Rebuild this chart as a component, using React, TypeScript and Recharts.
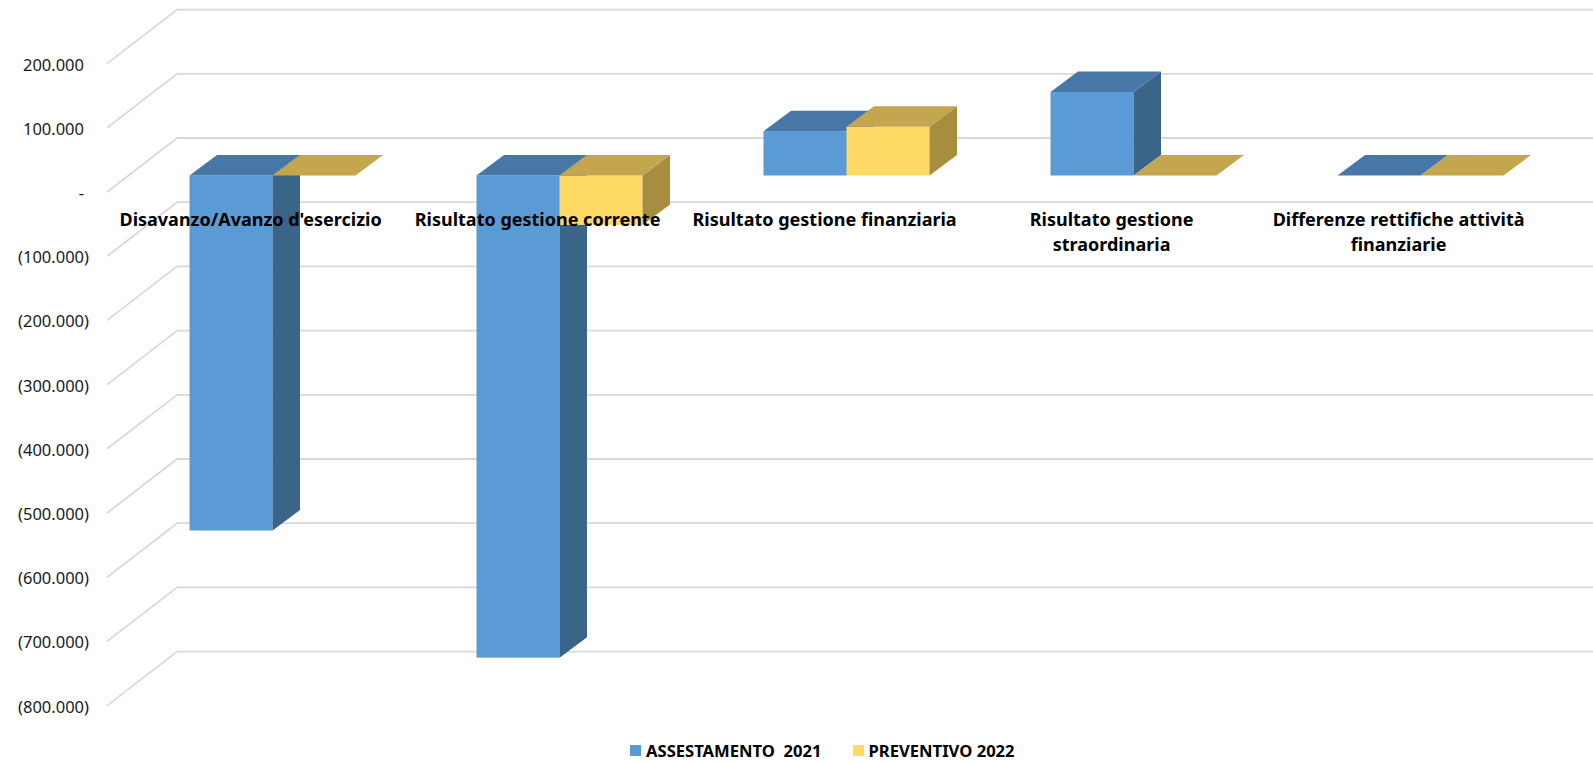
import { BarChart, Bar, XAxis, YAxis, CartesianGrid, Legend } from 'recharts';

const categories = [
  "Disavanzo/Avanzo d'esercizio",
  'Risultato gestione corrente',
  'Risultato gestione finanziaria',
  'Risultato gestione straordinaria',
  'Differenze rettifiche attività finanziarie',
];
const assestamento2021 = [-553000, -751000, 69000, 130000, 0];
const preventivo2022 = [0, -77000, 76000, 0, 0];
const yTicks = [200000, 100000, 0, -100000, -200000, -300000, -400000, -500000, -600000, -700000, -800000];

const W = 1593;
const H = 763;
const FONT = '"Noto Sans", sans-serif';

// oblique "3D" offsets, measured from the bar plane
const FRONT_DX = -21.4;
const FRONT_DY = 16.5;
const BACK_DX = 48.6;
const BACK_DY = -37.5;
const DEPTH_DX = 27.5;
const DEPTH_DY = -20.5;

const BLUE = { front: '#5B9BD5', top: '#4677A6', side: '#3B6489' };
const YELLOW = { front: '#FFD966', top: '#C4A64E', side: '#A68D3F' };

const data = categories.map((name, i) => ({
  name,
  a2021: assestamento2021[i],
  p2022: preventivo2022[i],
}));

const thousands = (n: number) => String(n).replace(/\B(?=(\d{3})+(?!\d))/g, '.');
const fmtTick = (v: number) => (v === 0 ? '-' : v < 0 ? `(${thousands(-v)})` : thousands(v));

const wrap = (s: string, max = 30) => {
  const lines: string[] = [];
  let cur = '';
  s.split(' ').forEach((w) => {
    const next = cur ? cur + ' ' + w : w;
    if (next.length > max && cur) {
      lines.push(cur);
      cur = w;
    } else cur = next;
  });
  lines.push(cur);
  return lines;
};

const prism = (colors: typeof BLUE) => (props: any) => {
  const { x, y, width, height } = props;
  if (x == null || y == null) return null;
  const y1 = Math.min(y, y + height);
  const y2 = Math.max(y, y + height);
  const w = width;
  const dx = DEPTH_DX;
  const dy = DEPTH_DY;
  return (
    <g>
      {y2 - y1 > 0 && <rect x={x} y={y1} width={w} height={y2 - y1} fill={colors.front} />}
      {y2 - y1 > 0 && (
        <polygon
          points={`${x + w},${y1} ${x + w + dx},${y1 + dy} ${x + w + dx},${y2 + dy} ${x + w},${y2}`}
          fill={colors.side}
        />
      )}
      <polygon
        points={`${x},${y1} ${x + dx},${y1 + dy} ${x + w + dx},${y1 + dy} ${x + w},${y1}`}
        fill={colors.top}
      />
    </g>
  );
};

const gridLine = (props: any) => {
  const { x1, y1, index } = props;
  const fx = x1 + FRONT_DX;
  const fy = y1 + FRONT_DY;
  const bx = x1 + BACK_DX;
  const by = y1 + BACK_DY;
  return (
    <path
      key={`g-${index}-${y1}`}
      d={`M${fx},${fy} L${bx},${by} L${W},${by}`}
      stroke="#D9D9D9"
      strokeWidth={1.8}
      fill="none"
    />
  );
};

const YTick = (props: any) => {
  const { y, payload } = props;
  const v = payload.value as number;
  return (
    <text
      x={v < 0 ? 89 : 84}
      y={y + FRONT_DY + 7}
      textAnchor="end"
      fontFamily={FONT}
      fontSize={16.5}
      fill="#1a1a1a"
    >
      {fmtTick(v)}
    </text>
  );
};

const XTick = (props: any) => {
  const { x, payload } = props;
  const lines = wrap(payload.value);
  return (
    <text
      x={x + FRONT_DX}
      y={226}
      textAnchor="middle"
      fontFamily={FONT}
      fontSize={18}
      fontWeight="bold"
      fill="#000"
    >
      {lines.map((l, i) => (
        <tspan key={i} x={x + FRONT_DX} dy={i === 0 ? 0 : 25}>
          {l}
        </tspan>
      ))}
    </text>
  );
};

const LegendContent = () => (
  <div
    style={{
      display: 'flex',
      alignItems: 'center',
      fontFamily: FONT,
      fontWeight: 'bold',
      fontSize: 16.6,
      color: '#000',
      whiteSpace: 'pre',
    }}
  >
    <span style={{ width: 11, height: 11, background: BLUE.front, display: 'inline-block', marginRight: 5 }} />
    <span>ASSESTAMENTO  2021</span>
    <span
      style={{ width: 11, height: 11, background: YELLOW.front, display: 'inline-block', marginLeft: 31, marginRight: 5 }}
    />
    <span>PREVENTIVO 2022</span>
  </div>
);

export default function App() {
  return (
    <div style={{ position: 'absolute', left: 0, top: 0, width: W, height: H, background: '#fff' }}>
      <BarChart
        width={W}
        height={H}
        data={data}
        margin={{ top: 47.1, right: 29.5, bottom: 43.9, left: 0 }}
        barSize={83}
        barGap={0}
      >
        <CartesianGrid vertical={false} horizontal={gridLine} />
        <YAxis
          type="number"
          domain={[-800000, 200000]}
          ticks={yTicks}
          interval={0}
          width={128.5}
          axisLine={false}
          tickLine={false}
          tick={<YTick />}
        />
        <Bar dataKey="a2021" name="ASSESTAMENTO  2021" shape={prism(BLUE)} isAnimationActive={false} />
        <Bar dataKey="p2022" name="PREVENTIVO 2022" shape={prism(YELLOW)} isAnimationActive={false} />
        <XAxis
          dataKey="name"
          interval={0}
          height={30}
          axisLine={false}
          tickLine={false}
          tick={<XTick />}
        />
        <Legend
          verticalAlign="middle"
          align="center"
          layout="horizontal"
          wrapperStyle={{ top: 739, left: 630, width: 'auto' }}
          content={<LegendContent />}
        />
      </BarChart>
    </div>
  );
}
